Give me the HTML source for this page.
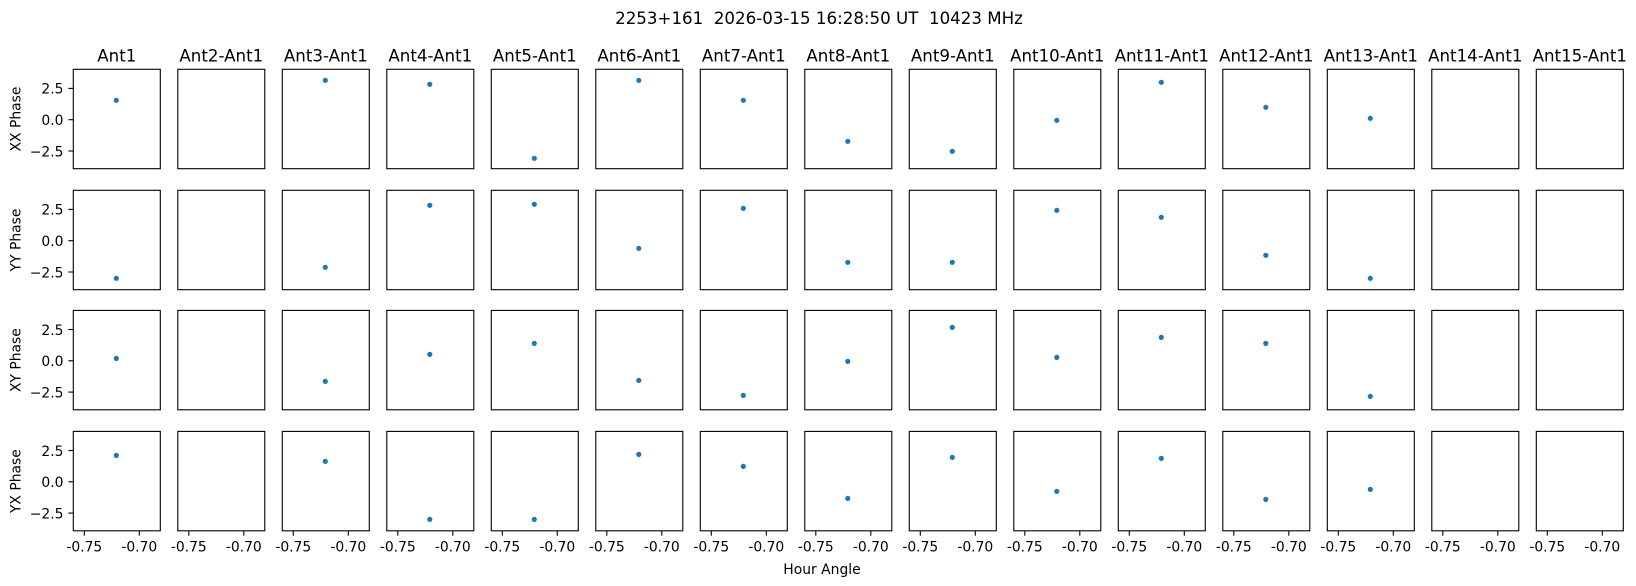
<!DOCTYPE html>
<html><head><meta charset="utf-8"><style>
html,body{margin:0;padding:0;background:#fff;}
svg{display:block;}
text{font-family:"DejaVu Sans","Liberation Sans",sans-serif;fill:#000;}
.t{font-size:16.67px;text-anchor:middle;}
.tk{font-size:13.9px;}
.xt{font-size:13.9px;text-anchor:middle;}
.yt{font-size:13.9px;text-anchor:end;}
.pre{white-space:pre;}
rect{fill:none;stroke:#000;stroke-width:1.1;}
circle{fill:#1f77b4;}
line{stroke:#000;stroke-width:1.1;}
</style></head><body>
<svg width="1636" height="586" viewBox="0 0 1636 586" xmlns="http://www.w3.org/2000/svg">
<rect x="0" y="0" width="1636" height="586" style="fill:#fff;stroke:none"/>
<text class="t pre" xml:space="preserve" x="819" y="24">2253+161  2026-03-15 16:28:50 UT  10423 MHz</text>

<!-- subplot titles -->
<g class="titles">
<text class="t" x="116.8" y="61.5">Ant1</text>
<text class="t" x="221.3" y="61.5">Ant2-Ant1</text>
<text class="t" x="325.8" y="61.5">Ant3-Ant1</text>
<text class="t" x="430.3" y="61.5">Ant4-Ant1</text>
<text class="t" x="534.8" y="61.5">Ant5-Ant1</text>
<text class="t" x="639.3" y="61.5">Ant6-Ant1</text>
<text class="t" x="743.8" y="61.5">Ant7-Ant1</text>
<text class="t" x="848.3" y="61.5">Ant8-Ant1</text>
<text class="t" x="952.8" y="61.5">Ant9-Ant1</text>
<text class="t" x="1057.3" y="61.5">Ant10-Ant1</text>
<text class="t" x="1161.8" y="61.5">Ant11-Ant1</text>
<text class="t" x="1266.3" y="61.5">Ant12-Ant1</text>
<text class="t" x="1370.8" y="61.5">Ant13-Ant1</text>
<text class="t" x="1475.3" y="61.5">Ant14-Ant1</text>
<text class="t" x="1579.8" y="61.5">Ant15-Ant1</text>
</g>

<!-- Row 1: XX -->
<g transform="translate(0,69.3)">
<rect x="73.3" y="0" width="87" height="99.4"/><rect x="177.8" y="0" width="87" height="99.4"/><rect x="282.3" y="0" width="87" height="99.4"/><rect x="386.8" y="0" width="87" height="99.4"/><rect x="491.3" y="0" width="87" height="99.4"/><rect x="595.8" y="0" width="87" height="99.4"/><rect x="700.3" y="0" width="87" height="99.4"/><rect x="804.8" y="0" width="87" height="99.4"/><rect x="909.3" y="0" width="87" height="99.4"/><rect x="1013.8" y="0" width="87" height="99.4"/><rect x="1118.3" y="0" width="87" height="99.4"/><rect x="1222.8" y="0" width="87" height="99.4"/><rect x="1327.3" y="0" width="87" height="99.4"/><rect x="1431.8" y="0" width="87" height="99.4"/><rect x="1536.3" y="0" width="87" height="99.4"/>
<line x1="68.4" y1="19.1" x2="73.3" y2="19.1"/><line x1="68.4" y1="50.4" x2="73.3" y2="50.4"/><line x1="68.4" y1="81.7" x2="73.3" y2="81.7"/>
<text class="yt" x="63.5" y="24.4">2.5</text><text class="yt" x="63.5" y="55.7">0.0</text><text class="yt" x="63.5" y="87">−2.5</text>
<text class="tk" text-anchor="middle" transform="translate(20.7,49.7) rotate(-90)">XX Phase</text>
<circle cx="116.3" cy="31" r="2.6"/><circle cx="325.3" cy="11" r="2.6"/><circle cx="429.8" cy="15" r="2.6"/><circle cx="534.3" cy="89" r="2.6"/><circle cx="638.8" cy="11" r="2.6"/><circle cx="743.3" cy="31" r="2.6"/><circle cx="847.8" cy="72" r="2.6"/><circle cx="952.3" cy="82" r="2.6"/><circle cx="1056.8" cy="51" r="2.6"/><circle cx="1161.3" cy="13" r="2.6"/><circle cx="1265.8" cy="38" r="2.6"/><circle cx="1370.3" cy="49" r="2.6"/>
</g>

<!-- Row 2: YY -->
<g transform="translate(0,190.3)">
<rect x="73.3" y="0" width="87" height="99.4"/><rect x="177.8" y="0" width="87" height="99.4"/><rect x="282.3" y="0" width="87" height="99.4"/><rect x="386.8" y="0" width="87" height="99.4"/><rect x="491.3" y="0" width="87" height="99.4"/><rect x="595.8" y="0" width="87" height="99.4"/><rect x="700.3" y="0" width="87" height="99.4"/><rect x="804.8" y="0" width="87" height="99.4"/><rect x="909.3" y="0" width="87" height="99.4"/><rect x="1013.8" y="0" width="87" height="99.4"/><rect x="1118.3" y="0" width="87" height="99.4"/><rect x="1222.8" y="0" width="87" height="99.4"/><rect x="1327.3" y="0" width="87" height="99.4"/><rect x="1431.8" y="0" width="87" height="99.4"/><rect x="1536.3" y="0" width="87" height="99.4"/>
<line x1="68.4" y1="19.1" x2="73.3" y2="19.1"/><line x1="68.4" y1="50.4" x2="73.3" y2="50.4"/><line x1="68.4" y1="81.7" x2="73.3" y2="81.7"/>
<text class="yt" x="63.5" y="24.4">2.5</text><text class="yt" x="63.5" y="55.7">0.0</text><text class="yt" x="63.5" y="87">−2.5</text>
<text class="tk" text-anchor="middle" transform="translate(20.7,49.7) rotate(-90)">YY Phase</text>
<circle cx="116.3" cy="88" r="2.6"/><circle cx="325.3" cy="77" r="2.6"/><circle cx="429.8" cy="15" r="2.6"/><circle cx="534.3" cy="14" r="2.6"/><circle cx="638.8" cy="58" r="2.6"/><circle cx="743.3" cy="18" r="2.6"/><circle cx="847.8" cy="72" r="2.6"/><circle cx="952.3" cy="72" r="2.6"/><circle cx="1056.8" cy="20" r="2.6"/><circle cx="1161.3" cy="27" r="2.6"/><circle cx="1265.8" cy="65" r="2.6"/><circle cx="1370.3" cy="88" r="2.6"/>
</g>

<!-- Row 3: XY -->
<g transform="translate(0,310.4)">
<rect x="73.3" y="0" width="87" height="99.4"/><rect x="177.8" y="0" width="87" height="99.4"/><rect x="282.3" y="0" width="87" height="99.4"/><rect x="386.8" y="0" width="87" height="99.4"/><rect x="491.3" y="0" width="87" height="99.4"/><rect x="595.8" y="0" width="87" height="99.4"/><rect x="700.3" y="0" width="87" height="99.4"/><rect x="804.8" y="0" width="87" height="99.4"/><rect x="909.3" y="0" width="87" height="99.4"/><rect x="1013.8" y="0" width="87" height="99.4"/><rect x="1118.3" y="0" width="87" height="99.4"/><rect x="1222.8" y="0" width="87" height="99.4"/><rect x="1327.3" y="0" width="87" height="99.4"/><rect x="1431.8" y="0" width="87" height="99.4"/><rect x="1536.3" y="0" width="87" height="99.4"/>
<line x1="68.4" y1="19.1" x2="73.3" y2="19.1"/><line x1="68.4" y1="50.4" x2="73.3" y2="50.4"/><line x1="68.4" y1="81.7" x2="73.3" y2="81.7"/>
<text class="yt" x="63.5" y="24.4">2.5</text><text class="yt" x="63.5" y="55.7">0.0</text><text class="yt" x="63.5" y="87">−2.5</text>
<text class="tk" text-anchor="middle" transform="translate(20.7,49.7) rotate(-90)">XY Phase</text>
<circle cx="116.3" cy="48" r="2.6"/><circle cx="325.3" cy="71" r="2.6"/><circle cx="429.8" cy="44" r="2.6"/><circle cx="534.3" cy="33" r="2.6"/><circle cx="638.8" cy="70" r="2.6"/><circle cx="743.3" cy="85" r="2.6"/><circle cx="847.8" cy="51" r="2.6"/><circle cx="952.3" cy="17" r="2.6"/><circle cx="1056.8" cy="47" r="2.6"/><circle cx="1161.3" cy="27" r="2.6"/><circle cx="1265.8" cy="33" r="2.6"/><circle cx="1370.3" cy="86" r="2.6"/>
</g>

<!-- Row 4: YX -->
<g transform="translate(0,431.4)">
<rect x="73.3" y="0" width="87" height="99.4"/><rect x="177.8" y="0" width="87" height="99.4"/><rect x="282.3" y="0" width="87" height="99.4"/><rect x="386.8" y="0" width="87" height="99.4"/><rect x="491.3" y="0" width="87" height="99.4"/><rect x="595.8" y="0" width="87" height="99.4"/><rect x="700.3" y="0" width="87" height="99.4"/><rect x="804.8" y="0" width="87" height="99.4"/><rect x="909.3" y="0" width="87" height="99.4"/><rect x="1013.8" y="0" width="87" height="99.4"/><rect x="1118.3" y="0" width="87" height="99.4"/><rect x="1222.8" y="0" width="87" height="99.4"/><rect x="1327.3" y="0" width="87" height="99.4"/><rect x="1431.8" y="0" width="87" height="99.4"/><rect x="1536.3" y="0" width="87" height="99.4"/>
<line x1="68.4" y1="19.1" x2="73.3" y2="19.1"/><line x1="68.4" y1="50.4" x2="73.3" y2="50.4"/><line x1="68.4" y1="81.7" x2="73.3" y2="81.7"/>
<text class="yt" x="63.5" y="24.4">2.5</text><text class="yt" x="63.5" y="55.7">0.0</text><text class="yt" x="63.5" y="87">−2.5</text>
<text class="tk" text-anchor="middle" transform="translate(20.7,49.7) rotate(-90)">YX Phase</text>
<circle cx="116.3" cy="24" r="2.6"/><circle cx="325.3" cy="30" r="2.6"/><circle cx="429.8" cy="88" r="2.6"/><circle cx="534.3" cy="88" r="2.6"/><circle cx="638.8" cy="23" r="2.6"/><circle cx="743.3" cy="35" r="2.6"/><circle cx="847.8" cy="67" r="2.6"/><circle cx="952.3" cy="26" r="2.6"/><circle cx="1056.8" cy="60" r="2.6"/><circle cx="1161.3" cy="27" r="2.6"/><circle cx="1265.8" cy="68" r="2.6"/><circle cx="1370.3" cy="58" r="2.6"/>
<!-- x ticks -->
<g transform="translate(0,99.4)">
<line x1="84.3" y1="0" x2="84.3" y2="4.9"/><line x1="139.3" y1="0" x2="139.3" y2="4.9"/>
<line x1="188.8" y1="0" x2="188.8" y2="4.9"/><line x1="243.8" y1="0" x2="243.8" y2="4.9"/>
<line x1="293.3" y1="0" x2="293.3" y2="4.9"/><line x1="348.3" y1="0" x2="348.3" y2="4.9"/>
<line x1="397.8" y1="0" x2="397.8" y2="4.9"/><line x1="452.8" y1="0" x2="452.8" y2="4.9"/>
<line x1="502.3" y1="0" x2="502.3" y2="4.9"/><line x1="557.3" y1="0" x2="557.3" y2="4.9"/>
<line x1="606.8" y1="0" x2="606.8" y2="4.9"/><line x1="661.8" y1="0" x2="661.8" y2="4.9"/>
<line x1="711.3" y1="0" x2="711.3" y2="4.9"/><line x1="766.3" y1="0" x2="766.3" y2="4.9"/>
<line x1="815.8" y1="0" x2="815.8" y2="4.9"/><line x1="870.8" y1="0" x2="870.8" y2="4.9"/>
<line x1="920.3" y1="0" x2="920.3" y2="4.9"/><line x1="975.3" y1="0" x2="975.3" y2="4.9"/>
<line x1="1024.8" y1="0" x2="1024.8" y2="4.9"/><line x1="1079.8" y1="0" x2="1079.8" y2="4.9"/>
<line x1="1129.3" y1="0" x2="1129.3" y2="4.9"/><line x1="1184.3" y1="0" x2="1184.3" y2="4.9"/>
<line x1="1233.8" y1="0" x2="1233.8" y2="4.9"/><line x1="1288.8" y1="0" x2="1288.8" y2="4.9"/>
<line x1="1338.3" y1="0" x2="1338.3" y2="4.9"/><line x1="1393.3" y1="0" x2="1393.3" y2="4.9"/>
<line x1="1442.8" y1="0" x2="1442.8" y2="4.9"/><line x1="1497.8" y1="0" x2="1497.8" y2="4.9"/>
<line x1="1547.3" y1="0" x2="1547.3" y2="4.9"/><line x1="1602.3" y1="0" x2="1602.3" y2="4.9"/>
</g>
</g>

<!-- x tick labels -->
<g>
<text class="xt" x="84.3" y="551.5">-0.75</text><text class="xt" x="139.3" y="551.5">-0.70</text>
<text class="xt" x="188.8" y="551.5">-0.75</text><text class="xt" x="243.8" y="551.5">-0.70</text>
<text class="xt" x="293.3" y="551.5">-0.75</text><text class="xt" x="348.3" y="551.5">-0.70</text>
<text class="xt" x="397.8" y="551.5">-0.75</text><text class="xt" x="452.8" y="551.5">-0.70</text>
<text class="xt" x="502.3" y="551.5">-0.75</text><text class="xt" x="557.3" y="551.5">-0.70</text>
<text class="xt" x="606.8" y="551.5">-0.75</text><text class="xt" x="661.8" y="551.5">-0.70</text>
<text class="xt" x="711.3" y="551.5">-0.75</text><text class="xt" x="766.3" y="551.5">-0.70</text>
<text class="xt" x="815.8" y="551.5">-0.75</text><text class="xt" x="870.8" y="551.5">-0.70</text>
<text class="xt" x="920.3" y="551.5">-0.75</text><text class="xt" x="975.3" y="551.5">-0.70</text>
<text class="xt" x="1024.8" y="551.5">-0.75</text><text class="xt" x="1079.8" y="551.5">-0.70</text>
<text class="xt" x="1129.3" y="551.5">-0.75</text><text class="xt" x="1184.3" y="551.5">-0.70</text>
<text class="xt" x="1233.8" y="551.5">-0.75</text><text class="xt" x="1288.8" y="551.5">-0.70</text>
<text class="xt" x="1338.3" y="551.5">-0.75</text><text class="xt" x="1393.3" y="551.5">-0.70</text>
<text class="xt" x="1442.8" y="551.5">-0.75</text><text class="xt" x="1497.8" y="551.5">-0.70</text>
<text class="xt" x="1547.3" y="551.5">-0.75</text><text class="xt" x="1602.3" y="551.5">-0.70</text>
</g>
<text class="xt" x="822" y="574">Hour Angle</text>
</svg>
</body></html>
